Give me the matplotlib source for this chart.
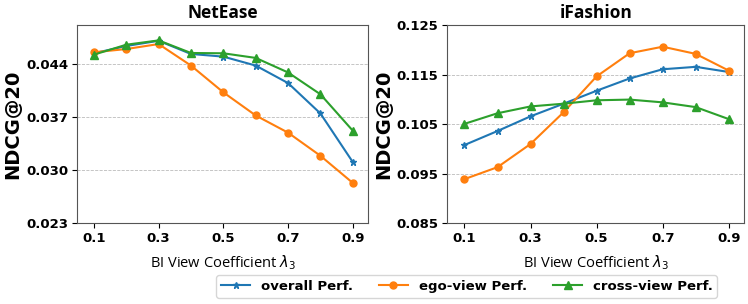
import matplotlib
matplotlib.use("Agg")
import matplotlib.pyplot as plt
import numpy as np

lam = [0.1, 0.2, 0.3, 0.4, 0.5, 0.6, 0.7, 0.8, 0.9]

# NetEase
ne_overall = [0.04540, 0.04636, 0.04705, 0.04531, 0.04496, 0.04378, 0.04147, 0.03746, 0.03105]
ne_ego = [0.04553, 0.04596, 0.04662, 0.04378, 0.04025, 0.03720, 0.03493, 0.03188, 0.02830]
ne_cross = [0.04522, 0.04653, 0.04710, 0.04544, 0.04540, 0.04479, 0.04287, 0.03999, 0.03519]

# iFashion
if_overall = [0.10079, 0.10362, 0.10659, 0.10914, 0.11176, 0.11424, 0.11610, 0.11659, 0.11555]
if_ego = [0.09390, 0.09631, 0.10100, 0.10741, 0.11466, 0.11934, 0.12066, 0.11921, 0.11583]
if_cross = [0.10507, 0.10721, 0.10859, 0.10914, 0.10983, 0.10997, 0.10941, 0.10845, 0.10603]

ne_ticks = [0.023, 0.030, 0.037, 0.044]
if_ticks = [0.085, 0.095, 0.105, 0.115, 0.125]
x_ticks = [0.1, 0.3, 0.5, 0.7, 0.9]

fig = plt.figure(figsize=(7.48, 3.04), dpi=100)
ax1 = fig.add_axes([0.103, 0.266, 0.389, 0.651])
ax2 = fig.add_axes([0.598, 0.266, 0.397, 0.651])

panels = [
    (ax1, "NetEase", ne_overall, ne_ego, ne_cross, ne_ticks, (0.023, 0.0491)),
    (ax2, "iFashion", if_overall, if_ego, if_cross, if_ticks, (0.085, 0.125)),
]

for ax, title, ov, eg, cr, yt, yl in panels:
    ax.plot(lam, ov, color="C0", marker="*", markersize=5, lw=1.5, label="overall Perf.")
    ax.plot(lam, eg, color="C1", marker="o", markersize=5, lw=1.5, label="ego-view Perf.")
    ax.plot(lam, cr, color="C2", marker="^", markersize=6, lw=1.5, label="cross-view Perf.")
    ax.set_title(title, fontsize=12.5, fontweight="bold", family="Open Sans", pad=5)
    ax.set_xlim(0.048, 0.947)
    ax.set_ylim(*yl)
    ax.set_yticks(yt)
    ax.set_yticklabels(["%.3f" % v for v in yt])
    ax.set_xticks(x_ticks)
    ax.set_xticklabels(["%.1f" % v for v in x_ticks])
    for lbl in ax.get_xticklabels() + ax.get_yticklabels():
        lbl.set_fontweight("bold")
        lbl.set_fontsize(9.5)
    ax.tick_params(pad=3)
    ax.yaxis.grid(True, linestyle="--", color="#bbbbbb", lw=0.6)
    ax.set_xlabel(r"BI View Coefficient $\lambda_3$", fontsize=10.5, family="Open Sans", labelpad=6)
    ax.set_ylabel("NDCG@20", fontsize=14, fontweight="bold")
    for s in ax.spines.values():
        s.set_color("#555555")

ax1.yaxis.set_label_coords(-0.189, 0.5)
ax2.yaxis.set_label_coords(-0.182, 0.5)

handles, labels = ax1.get_legend_handles_labels()
fig.legend(handles, labels, loc="center", bbox_to_anchor=(0.624, 0.0576), ncol=3,
           prop={"weight": "bold", "size": 9.5}, frameon=True, columnspacing=2.0,
           handlelength=2.2, handletextpad=0.8, borderpad=0.35)

fig.savefig("out.png", dpi=100)
